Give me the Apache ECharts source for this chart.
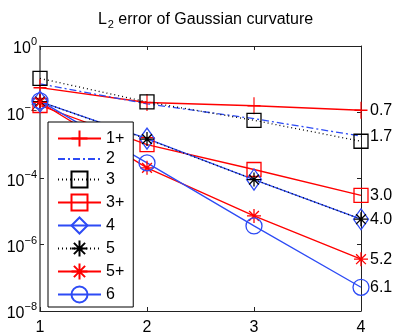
<!DOCTYPE html>
<html>
<head>
<meta charset="utf-8">
<script src="https://cdn.jsdelivr.net/npm/echarts@6/dist/echarts.min.js"></script>
<style>
  html, body { margin: 0; padding: 0; background: #fff; }
  #chart { width: 407px; height: 336px; }
</style>
</head>
<body>
<div id="chart"></div>
<script>
// refinement levels
var levels = [1, 2, 3, 4];
// L2 errors per scheme
var err1p = [0.055, 0.0197, 0.0157, 0.0115];
var err2 = [0.072, 0.018, 0.0064, 0.0019];
var err3 = [0.105, 0.0205, 0.0057, 0.00133];
var err3p = [0.016, 0.00105, 1.87e-4, 3.1e-5];
var err4 = [0.021, 0.0016, 9.3e-5, 5.9e-6];
var err5 = [0.021, 0.00155, 9.3e-5, 5.9e-6];
var err5p = [0.02, 2.1e-4, 7.4e-6, 3.66e-7];
var err6 = [0.022, 2.96e-4, 3.7e-6, 5.2e-8];
var names = ["1+", "2", "3", "3+", "4", "5", "5+", "6"];
// convergence rates written at the right end ("" = no label)
var rates = ["0.7", "1.7", "", "3.0", "4.0", "", "5.2", "6.1"];

var RED = "#ff0000";
var BLUE = "#2d4bf5";
var BLACK = "#000000";
var FONT = "Liberation Sans";

var plus = "path://M0,5L10,5M5,0L5,10";
var star = "path://M0,5L10,5M5,0L5,10M1.5,1.5L8.5,8.5M1.5,8.5L8.5,1.5";

var styles = [
  { data: err1p, color: RED, line: "solid", symbol: plus, size: [13, 17] },
  { data: err2, color: BLUE, line: [7, 3, 2, 3], symbol: "circle", size: 0 },
  { data: err3, color: BLACK, line: [1, 3], symbol: "rect", size: 14 },
  { data: err3p, color: RED, line: "solid", symbol: "rect", size: 14 },
  { data: err4, color: BLUE, line: "solid", symbol: "diamond", size: [15, 21] },
  { data: err5, color: BLACK, line: [1, 3], symbol: star, size: 14 },
  { data: err5p, color: RED, line: "solid", symbol: star, size: 14 },
  { data: err6, color: BLUE, line: "solid", symbol: "circle", size: 16 },
];

var series = [];
var legendData = [];
for (var i = 0; i < styles.length; i++) {
  var st = styles[i];
  var pts = [];
  for (var j = 0; j < levels.length; j++) {
    pts.push([levels[j], st.data[j]]);
  }
  (function (rate) {
    series.push({
      name: names[i],
      type: "line",
      data: pts,
      symbol: st.symbol,
      symbolSize: st.size,
      showSymbol: st.size !== 0,
      lineStyle: { color: st.color, width: 1.3, type: st.line },
      itemStyle: { color: "none", borderColor: st.color, borderWidth: 1.3 },
      emphasis: { disabled: true },
      endLabel: {
        show: rate !== "",
        formatter: function () { return rate; },
        color: "#000",
        fontFamily: FONT,
        fontSize: 16,
        distance: 9,
      },
    });
  })(rates[i]);
  if (st.size === 0) {
    // line only, hide the marker in the legend
    legendData.push({ name: names[i], itemStyle: { color: "rgba(0,0,0,0)", borderColor: "rgba(0,0,0,0)", borderWidth: 0 } });
  } else {
    legendData.push(names[i]);
  }
}

function powLabel(v) {
  var e = Math.round(Math.log10(v));
  var s = e < 0 ? "\u2212" + (-e) : "" + e;
  return "{b|10}{s|" + s + "}";
}

var myChart = echarts.init(document.getElementById("chart"));
var option = {
  animation: false,
  backgroundColor: "#fff",
  title: {
    text: "{a|L}{s|2}{a| error of Gaussian curvature}",
    left: 200.5,
    textAlign: "center",
    top: 5,
    textStyle: {
      fontWeight: "normal",
      rich: {
        a: { fontFamily: FONT, fontSize: 16, fontWeight: "normal", color: "#000" },
        s: { fontFamily: FONT, fontSize: 11, fontWeight: "normal", color: "#000", padding: [9, 0, 0, 1] },
      },
    },
  },
  grid: { left: 40, right: 46, top: 46, bottom: 24 },
  legend: {
    orient: "vertical",
    left: 48,
    top: 122,
    padding: [6, 9, 2, 9],
    itemWidth: 43,
    itemHeight: 20,
    itemGap: 2,
    backgroundColor: "#fff",
    borderColor: "#000",
    borderWidth: 1,
    borderRadius: 0,
    textStyle: { fontFamily: FONT, fontSize: 16, color: "#000" },
    data: legendData,
  },
  xAxis: [
    {
      type: "value",
      min: 1,
      max: 4,
      interval: 1,
      axisLine: { lineStyle: { color: "#222", width: 1 } },
      axisTick: { inside: true, length: 4, lineStyle: { color: "#222" } },
      axisLabel: { fontFamily: FONT, fontSize: 16, color: "#000", margin: 9 },
      splitLine: { show: false },
    },
    {
      type: "value",
      position: "top",
      min: 1,
      max: 4,
      interval: 1,
      axisLine: { lineStyle: { color: "#222", width: 1 } },
      axisTick: { inside: true, length: 4, lineStyle: { color: "#222" } },
      axisLabel: { show: false },
      splitLine: { show: false },
    },
  ],
  yAxis: [
    {
      type: "log",
      logBase: 10,
      min: 1e-8,
      max: 1,
      interval: 2,
      axisLine: { show: true, lineStyle: { color: "#555", width: 1.5 } },
      axisTick: { inside: true, length: 4, lineStyle: { color: "#222" } },
      axisLabel: {
        margin: 3,
        formatter: powLabel,
        rich: {
          b: { fontFamily: FONT, fontSize: 16, color: "#000", padding: [6, 0, 0, 0] },
          s: { fontFamily: FONT, fontSize: 11, color: "#000", padding: [0, 0, 8, 0] },
        },
      },
      splitLine: { show: false },
      minorTick: { show: false },
    },
    {
      type: "log",
      logBase: 10,
      position: "right",
      min: 1e-8,
      max: 1,
      interval: 2,
      axisLine: { show: true, lineStyle: { color: "#222", width: 1 } },
      axisTick: { inside: true, length: 4, lineStyle: { color: "#222" } },
      axisLabel: { show: false },
      splitLine: { show: false },
    },
  ],
  series: series,
};
myChart.setOption(option);
</script>
</body>
</html>
